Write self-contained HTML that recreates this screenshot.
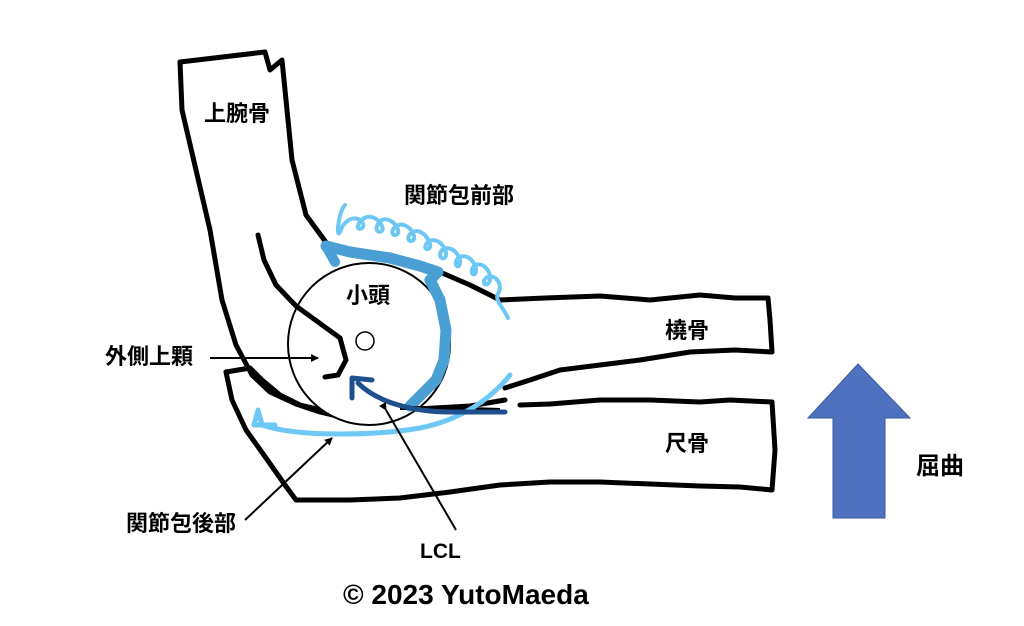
<!DOCTYPE html>
<html><head><meta charset="utf-8"><style>
html,body{margin:0;padding:0;background:#fff;}
svg{display:block;}
text{font-family:"Liberation Sans","Noto Sans CJK JP",sans-serif;font-weight:bold;fill:#000;}
</style></head><body>
<svg width="1024" height="626" viewBox="0 0 1024 626" xmlns="http://www.w3.org/2000/svg">
<defs>
<marker id="ah" markerWidth="8" markerHeight="8" refX="7" refY="4" orient="auto" markerUnits="userSpaceOnUse"><path d="M0,0 L8,4 L0,8 Z" fill="#000"/></marker>
</defs>
<g fill="none" stroke="#000" stroke-width="5" stroke-linejoin="round" stroke-linecap="round">
<path d="M180,62 L265,52 L270,70 L282,60 L286,100 L292,160 L306,215 L328,245"/>
<path d="M180,62 L182,110 L196,170 L210,230 L222,300 L236,345 L252,375 L270,392 L296,404 L320,412 L345,418"/>
<path d="M440,272 L470,285 L500,300 L545,298 L600,296 L650,300 L700,295 L735,298 L768,298 L770,320 L772,352 L735,350 L690,352 L640,360 L600,365 L560,370 L530,380 L505,388"/>
<path d="M226,372 L232,400 L246,430 L266,458 L285,485 L296,500 L350,500 L400,498 L450,492 L500,485 L550,482 L600,482 L650,484 L700,486 L740,487 L772,490 L775,450 L772,402 L730,400 L700,402 L650,400 L600,400 L550,404 L520,405"/>
<path d="M226,372 L250,368 L262,380 L280,395 L300,405 L330,412 L400,410 L470,406 L505,400"/>
</g>
<circle cx="369" cy="344" r="81" fill="#fff" stroke="#000" stroke-width="2"/>
<circle cx="365" cy="341" r="9" fill="#fff" stroke="#000" stroke-width="1.5"/>
<path d="M258,235 L264,260 L276,285 L296,306 L318,322 L340,338 L346,360 L338,375 L325,377" fill="none" stroke="#000" stroke-width="5" stroke-linecap="round"/>
<path d="M326,246 L350,252 L390,258 L420,266 L438,272 L430,280 L440,300 L446,330 L444,360 L436,380 L420,396 L410,406" fill="none" stroke="#4a9fd4" stroke-width="11" stroke-linecap="round" stroke-linejoin="round"/>
<path d="M326,246 L335,262" stroke="#4a9fd4" stroke-width="10" stroke-linecap="round"/>
<path d="M400,408 L440,408 L500,410" stroke="#000" stroke-width="4"/>
<!-- anterior coil -->
<path d="M345,205 C338,212 336,240 340,232 C344,220 355,214 362,222 C368,230 352,232 360,222 C368,212 378,218 382,226 C386,234 372,234 378,224 C384,214 396,222 398,230 C400,238 388,236 394,228 C402,220 412,228 414,236 C416,244 404,242 410,234 C418,226 428,236 430,244 C432,252 420,250 428,242 C436,236 446,246 446,254 C446,262 436,258 442,250 C450,244 460,254 460,262 C460,270 452,266 458,258 C466,252 476,262 476,270 C476,278 468,274 474,266 C482,260 492,272 490,280 C488,288 480,284 486,278 C494,272 504,284 498,294 C494,300 505,310 508,318" fill="none" stroke="#6ec8f5" stroke-width="4" stroke-linecap="round"/>
<path d="M510,375 C490,400 460,420 420,428 C380,435 300,438 262,425 L258,410 M258,410 L254,425 L275,425" fill="none" stroke="#6ec8f5" stroke-width="5" stroke-linecap="round" stroke-linejoin="round"/>
<path d="M505,412 L450,412 C420,412 380,405 358,383 M352,398 L352,378 L372,380" fill="none" stroke="#1f4f8c" stroke-width="5" stroke-linecap="round" stroke-linejoin="round"/>
<g stroke="#000" stroke-width="2">
<line x1="210" y1="358" x2="318" y2="358" marker-end="url(#ah)"/>
<line x1="386" y1="410" x2="456" y2="530" marker-start="url(#ah)"/>
<line x1="245" y1="520" x2="332" y2="438" marker-end="url(#ah)"/>
</g>
<polygon points="858,364 910,418 885,418 885,518 833,518 833,418 808,418" fill="#4f72c0" stroke="#3a5a9e" stroke-width="1"/>
<text x="204" y="121" font-size="22">上腕骨</text>
<text x="404" y="203" font-size="22">関節包前部</text>
<text x="346" y="303" font-size="22">小頭</text>
<text x="665" y="338" font-size="22">橈骨</text>
<text x="665" y="451" font-size="22">尺骨</text>
<text x="105" y="364" font-size="22">外側上顆</text>
<text x="126" y="531" font-size="22">関節包後部</text>
<text x="420" y="558" font-size="21">LCL</text>
<text x="916" y="474" font-size="24">屈曲</text>
<text x="343" y="604" font-size="28">© 2023 YutoMaeda</text>
</svg>
</body></html>
